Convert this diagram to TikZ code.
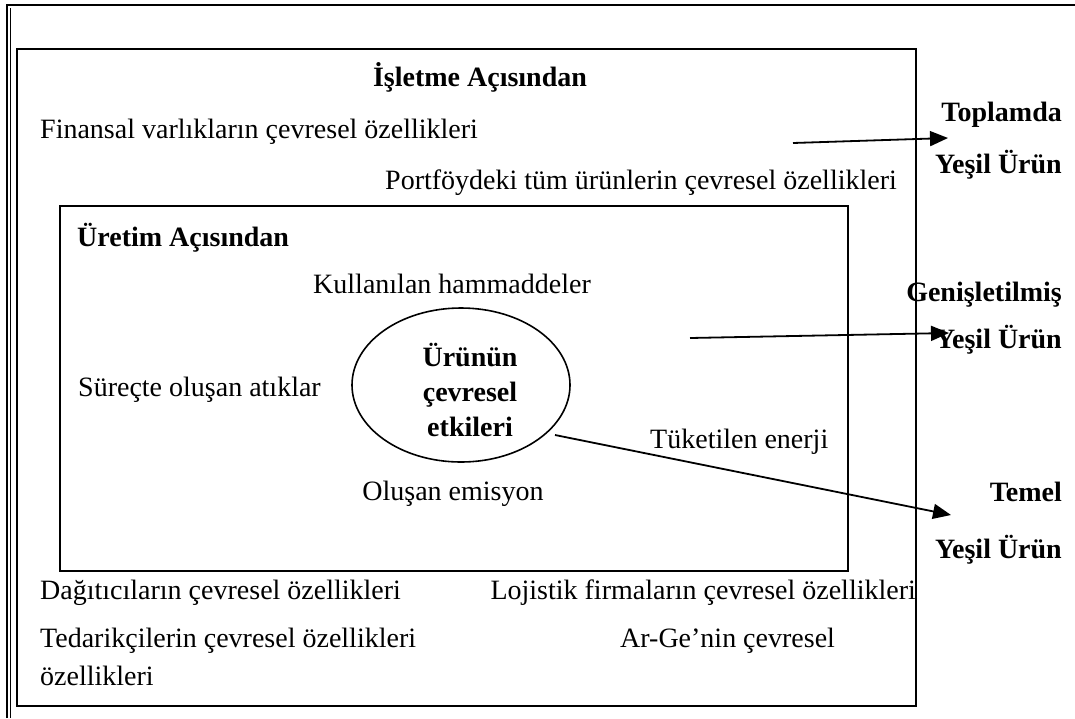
\documentclass[tikz,border=0pt]{standalone}
\usepackage{fontspec}
\setmainfont{Liberation Serif}
\usetikzlibrary{arrows.meta,shapes.geometric}
\begin{document}
\begin{tikzpicture}[x=1pt,y=-1pt,
  txt/.style={font=\fontsize{28}{33}\selectfont, inner sep=0pt},
  btxt/.style={font=\fontsize{28}{35}\selectfont\bfseries, inner sep=0pt},
  frame/.style={line width=2pt},
  arr/.style={line width=1.8pt, -{Triangle[length=18pt,width=15pt]}}]
\useasboundingbox (0,0) rectangle (1075,718);
% frames
\draw[frame] (7,718) -- (7,5) -- (1075,5);
\draw[line width=0.8pt] (10,718) -- (10,8);
\draw[frame] (17,49) rectangle (916,706);
\draw[frame] (60,206) rectangle (848,571);
% ellipse
\node[draw, ellipse, line width=1.6pt, minimum width=218pt, minimum height=154pt] (core) at (461,385) {};
\node[btxt, align=center] (coretxt) at (470,390) {Ürünün\\çevresel\\etkileri};
% texts outer box
\node[btxt, anchor=mid] (isl) at (480,84) {İşletme Açısından};
\node[txt, anchor=mid west] (fin) at (40,136) {Finansal varlıkların çevresel özellikleri};
\node[txt, anchor=mid east] (port) at (897,187) {Portföydeki tüm ürünlerin çevresel özellikleri};
\node[txt, anchor=mid west] (dag) at (40,597) {Dağıtıcıların çevresel özellikleri};
\node[txt, anchor=mid east] (loj) at (916,597) {Lojistik firmaların çevresel özellikleri};
\node[txt, anchor=mid west] (ted) at (40,645) {Tedarikçilerin çevresel özellikleri};
\node[txt, anchor=mid west] (ted2) at (40,683) {özellikleri};
\node[txt, anchor=mid west] (arge) at (620,645) {Ar-Ge’nin çevresel};
% texts inner box
\node[btxt, anchor=mid west] (ure) at (77,244) {Üretim Açısından};
\node[txt, anchor=mid] (kul) at (452,291) {Kullanılan hammaddeler};
\node[txt, anchor=mid west] (sur) at (78,394) {Süreçte oluşan atıklar};
\node[txt, anchor=mid west] (tuk) at (650,446) {Tüketilen enerji};
\node[txt, anchor=mid] (olu) at (453,498) {Oluşan emisyon};
% right labels
\node[btxt, anchor=mid east] (top1) at (1062,119) {Toplamda};
\node[btxt, anchor=mid east] (top2) at (1062,171) {Yeşil Ürün};
\node[btxt, anchor=mid east] (gen1) at (1062,299) {Genişletilmiş};
\node[btxt, anchor=mid east] (gen2) at (1062,346) {Yeşil Ürün};
\node[btxt, anchor=mid east] (tem1) at (1062,499) {Temel};
\node[btxt, anchor=mid east] (tem2) at (1062,556) {Yeşil Ürün};
% arrows
\coordinate (a1s) at (793,143);
\coordinate (a1e) at (948,138);
\coordinate (a2s) at (690,338);
\coordinate (a2e) at (949,333);
\coordinate (a3s) at (555,435);
\coordinate (a3e) at (951,515);
\draw[arr] (a1s) -- (a1e);
\draw[arr] (a2s) -- (a2e);
\draw[arr] (a3s) -- (a3e);
\end{tikzpicture}
\end{document}
